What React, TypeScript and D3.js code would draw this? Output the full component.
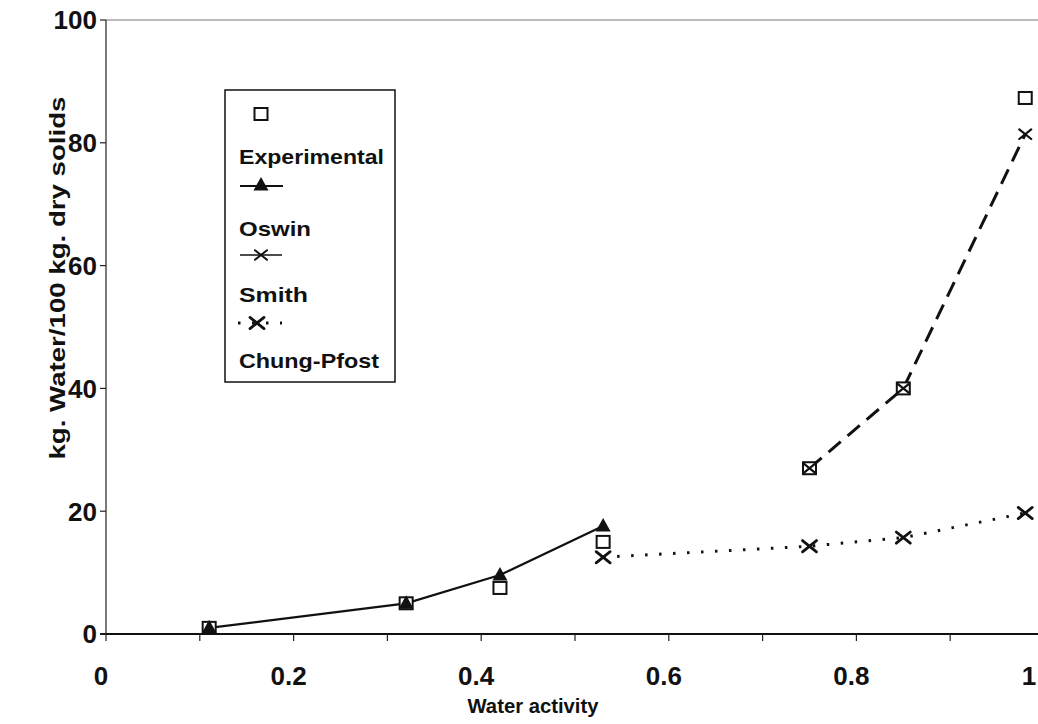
import React from "react";
import * as d3 from "d3";

// Moisture sorption data: kg water per 100 kg dry solids vs water activity
const expX = [0.11, 0.32, 0.42, 0.53, 0.75, 0.85, 0.98];
const expY = [1.0, 5.0, 7.5, 15.0, 27.0, 40.0, 87.3];

const oswinX = [0.11, 0.32, 0.42, 0.53];
const oswinY = [1.0, 5.0, 9.6, 17.6];

const smithX = [0.75, 0.85, 0.98];
const smithY = [27.0, 40.0, 81.4];

const chungX = [0.53, 0.75, 0.85, 0.98];
const chungY = [12.5, 14.3, 15.7, 19.7];

const xMajorTicks = [0, 0.2, 0.4, 0.6, 0.8, 1];
const xTickLabels = ["0", "0.2", "0.4", "0.6", "0.8", "1"];
const xMinorTicks = [0.1, 0.3, 0.5, 0.7, 0.9];
const yTicks = [0, 20, 40, 60, 80, 100];

const legendNames = ["Experimental", "Oswin", "Smith", "Chung-Pfost"];
const legendTextWidths = [145, 72, 69, 140];

const W = 1038;
const H = 724;
const FONT = "'Liberation Sans', Arial, Helvetica, sans-serif";

const x = d3.scaleLinear().domain([0, 1]).range([106, 1044]);
const y = d3.scaleLinear().domain([0, 100]).range([634, 20]);

type Pt = [number, number];
const zip = (xs: number[], ys: number[]): Pt[] => xs.map((v, i) => [v, ys[i]]);

const line = d3
  .line<Pt>()
  .x((d) => x(d[0]))
  .y((d) => y(d[1]));

function Square({ cx, cy }: { cx: number; cy: number }) {
  return (
    <rect x={cx - 6.5} y={cy - 6} width={13} height={12} fill="white" stroke="#111" strokeWidth={2} />
  );
}

function Triangle({ cx, cy }: { cx: number; cy: number }) {
  const p = d3.path();
  p.moveTo(cx, cy - 8);
  p.lineTo(cx + 7.5, cy + 5.5);
  p.lineTo(cx - 7.5, cy + 5.5);
  p.closePath();
  return <path d={p.toString()} fill="#111" />;
}

function Cross({ cx, cy, r, w }: { cx: number; cy: number; r: number; w: number }) {
  return (
    <g stroke="#111" strokeWidth={w} strokeLinecap="round">
      <line x1={cx - r} y1={cy - r * 0.8} x2={cx + r} y2={cy + r * 0.8} />
      <line x1={cx - r} y1={cy + r * 0.8} x2={cx + r} y2={cy - r * 0.8} />
    </g>
  );
}

function LegendText({ i, yb }: { i: number; yb: number }) {
  return (
    <text
      x={239}
      y={yb}
      fontSize={21}
      fontWeight="bold"
      fill="#111"
      textLength={legendTextWidths[i]}
      lengthAdjust="spacingAndGlyphs"
    >
      {legendNames[i]}
    </text>
  );
}

export default function App() {
  const expPts = zip(expX, expY);
  const oswinPts = zip(oswinX, oswinY);
  const smithPts = zip(smithX, smithY);
  const chungPts = zip(chungX, chungY);

  const legX = 225;
  const legTop = 90;
  const legW = 170;
  const legH = 292;
  const symX = 261;

  return (
    <svg
      width={W}
      height={H}
      style={{ position: "absolute", left: 0, top: 0, background: "white" }}
      fontFamily={FONT}
    >
      <rect width={W} height={H} fill="white" />

      {/* plot frame */}
      <line x1={x(0)} y1={y(100)} x2={W} y2={y(100)} stroke="#777" strokeWidth={1.2} />
      <line x1={x(0)} y1={y(0)} x2={x(0)} y2={y(100)} stroke="#222" strokeWidth={1.2} />
      <line x1={x(0) - 6} y1={y(0)} x2={W} y2={y(0)} stroke="#111" strokeWidth={2} />

      {/* y axis ticks and labels */}
      {yTicks.map((t) => (
        <g key={"y" + t}>
          <line x1={x(0) - 6} x2={x(0)} y1={y(t)} y2={y(t)} stroke="#222" strokeWidth={1.2} />
          <text
            x={97}
            y={y(t)}
            dy="0.36em"
            textAnchor="end"
            fontSize={26}
            fontWeight="bold"
            fill="#111"
          >
            {t}
          </text>
        </g>
      ))}

      {/* x axis ticks and labels */}
      {xMajorTicks.map((t, i) => (
        <g key={"x" + t}>
          <line x1={x(t)} x2={x(t)} y1={y(0)} y2={y(0) + 7} stroke="#222" strokeWidth={1.2} />
          <text
            x={Math.min(x(t) - 5, W - 9)}
            y={685}
            textAnchor="middle"
            fontSize={26}
            fontWeight="bold"
            fill="#111"
          >
            {xTickLabels[i]}
          </text>
        </g>
      ))}
      {xMinorTicks.map((t) => (
        <line key={"xm" + t} x1={x(t)} x2={x(t)} y1={y(0)} y2={y(0) + 7} stroke="#222" strokeWidth={1.2} />
      ))}

      {/* axis titles */}
      <text
        x={533}
        y={713}
        textAnchor="middle"
        fontSize={21}
        fontWeight="bold"
        fill="#111"
        textLength={131}
        lengthAdjust="spacingAndGlyphs"
      >
        Water activity
      </text>
      <text
        transform={`translate(65,${278}) rotate(-90)`}
        textAnchor="middle"
        fontSize={22}
        fontWeight="bold"
        fill="#111"
        textLength={363}
        lengthAdjust="spacingAndGlyphs"
      >
        kg. Water/100 kg. dry solids
      </text>

      {/* model curves */}
      <path d={line(oswinPts) ?? ""} fill="none" stroke="#111" strokeWidth={2.2} />
      <path d={line(smithPts) ?? ""} fill="none" stroke="#111" strokeWidth={3} strokeDasharray="16 9" />
      <path
        d={line(chungPts) ?? ""}
        fill="none"
        stroke="#111"
        strokeWidth={3}
        strokeDasharray="2.5 11.5"
      />

      {/* markers */}
      {expPts.map((d, i) => (
        <Square key={"e" + i} cx={x(d[0])} cy={y(d[1])} />
      ))}
      {oswinPts.map((d, i) => (
        <Triangle key={"o" + i} cx={x(d[0])} cy={y(d[1])} />
      ))}
      {smithPts.map((d, i) => (
        <Cross key={"s" + i} cx={x(d[0])} cy={y(d[1])} r={6} w={2.2} />
      ))}
      {chungPts.map((d, i) => (
        <Cross key={"c" + i} cx={x(d[0])} cy={y(d[1])} r={7} w={2.8} />
      ))}

      {/* legend */}
      <rect x={legX} y={legTop} width={legW} height={legH} fill="white" stroke="#111" strokeWidth={1.5} />
      <Square cx={symX} cy={114} />
      <LegendText i={0} yb={164} />
      <line x1={240} x2={283} y1={186} y2={186} stroke="#111" strokeWidth={2} />
      <Triangle cx={symX} cy={185} />
      <LegendText i={1} yb={236} />
      <line x1={240} x2={282} y1={255} y2={255} stroke="#111" strokeWidth={1.5} />
      <Cross cx={symX} cy={255} r={6} w={2} />
      <LegendText i={2} yb={302} />
      <line x1={238} x2={282} y1={323} y2={323} stroke="#111" strokeWidth={3} strokeDasharray="2.5 11.5" />
      <Cross cx={symX - 4} cy={323} r={7} w={2.8} />
      <LegendText i={3} yb={368} />
    </svg>
  );
}
